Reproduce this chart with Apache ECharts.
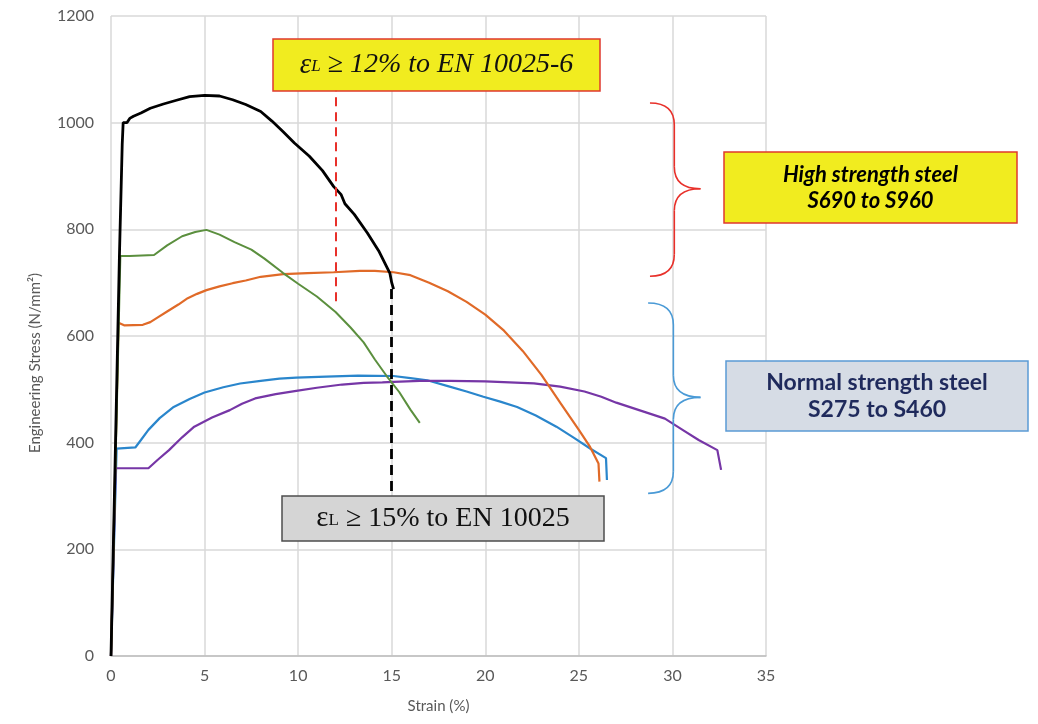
<!DOCTYPE html>
<html>
<head>
<meta charset="utf-8">
<script src="https://cdn.jsdelivr.net/npm/echarts@6/dist/echarts.min.js"></script>
<style>
html,body{margin:0;padding:0;background:#fff;}
#chart{width:1038px;height:724px;}
</style>
</head>
<body>
<div id="chart"></div>
<script>
// strain (%) , stress (N/mm2)
var blackCurve = [[0,0],[0.2,330],[0.45,750],[0.6,960],[0.65,1000],[0.85,1000],[1.0,1008],[1.2,1012],[1.6,1018],[2.1,1027],[2.8,1035],[3.5,1042],[4.2,1049],[5.0,1051],[5.8,1050],[6.5,1043],[7.2,1034],[8.0,1021],[8.6,1003],[9.2,983],[9.8,962],[10.6,937],[11.3,910],[11.9,880],[12.3,865],[12.5,848],[13.0,828],[13.7,793],[14.3,760],[14.9,718],[15.0,700],[15.1,688]];
var greenCurve = [[0,0],[0.5,750],[1.0,750],[2.3,752],[3.0,770],[3.8,787],[4.5,795],[5.1,799],[5.8,790],[6.6,776],[7.5,762],[8.2,745],[9.2,718],[10.0,698],[11.0,674],[12.0,645],[12.8,616],[13.5,588],[14.1,556],[14.75,524],[15.4,495],[16.0,462],[16.5,437]];
var orangeCurve = [[0,0],[0.4,625],[0.7,620],[1.7,621],[2.1,626],[2.5,635],[3.0,646],[3.6,659],[4.1,671],[4.6,679],[5.1,686],[5.8,693],[6.5,699],[7.2,704],[8.0,711],[9.2,716],[10.5,718],[11.9,719.5],[13.3,722],[14.1,722],[15.1,719.5],[16.0,714],[17.0,700],[18.0,684],[19.0,664],[20.0,640],[21.0,610],[22.0,572],[23.0,527],[24.0,475],[25.0,424],[25.6,392],[26.05,361],[26.1,327]];
var blueCurve = [[0,0],[0.3,389],[1.3,391],[1.6,405],[2.0,424],[2.6,446],[3.35,467],[4.2,482],[5.0,494],[6.0,504],[6.9,511],[8.0,516],[9.0,520],[9.9,522],[11.5,524],[13.2,525.6],[15.1,525],[16.0,521],[16.9,517],[18.0,506],[19.0,496],[19.9,486],[20.8,477],[21.7,467],[22.7,451],[23.8,430],[24.7,410],[25.6,389],[26.45,371],[26.5,330]];
var purpleCurve = [[0,0],[0.25,352],[2.0,352],[2.5,368],[3.1,386],[3.8,410],[4.45,430],[5.4,447],[6.35,461],[7.0,473],[7.7,483],[8.8,491],[9.9,497],[11.0,503],[12.35,509],[13.5,512],[14.5,513],[15.1,514],[16.5,516],[18.1,516],[20.0,515],[22.6,511],[24.0,505],[25.3,496],[26.2,486],[27.0,475],[28.3,460],[29.6,445],[30.5,425],[31.4,405],[32.4,386],[32.6,349]];

var xTicks = [0,5,10,15,20,25,30,35];
var yTicks = [0,200,400,600,800,1000,1200];

// dashed limit lines : [strain, from stress, to stress]
var limit12 = [12, 665, 1060];
var limit15 = [15, 688, 306];

// braces : x end, x spine, x tip, y top, y mid, y bottom (data units)
var braceHigh = [28.8, 30.1, 31.5, 1037, 876, 712];
var braceNormal = [28.7, 30.05, 31.5, 662, 485, 305];

var chart = echarts.init(document.getElementById('chart'));

var lineSeries = function(name, data, color, w){
    return {
        name: name,
        type: 'line',
        data: data,
        showSymbol: false,
        symbol: 'none',
        smooth: false,
        silent: true,
        lineStyle: {color: color, width: w}
    };
};

var series = [
    lineSeries('blue', blueCurve, '#2a86cc', 2.2),
    lineSeries('purple', purpleCurve, '#7636a6', 2.2),
    lineSeries('orange', orangeCurve, '#e06a28', 2.2),
    lineSeries('green', greenCurve, '#5b8f3e', 2),
    lineSeries('black', blackCurve, '#000000', 2.8)
];
series[3].markLine = {
    silent: true, symbol: ['none','none'], label: {show: false},
    lineStyle: {color: '#e8302a', type: [9,6], width: 2},
    data: [[{coord: [limit12[0], limit12[1]]}, {coord: [limit12[0], limit12[2]]}]]
};
series[4].markLine = {
    silent: true, symbol: ['none','none'], label: {show: false},
    lineStyle: {color: '#000', type: [10,6], width: 2.8},
    data: [[{coord: [limit15[0], limit15[1]]}, {coord: [limit15[0], limit15[2]]}]]
};

var option = {
    backgroundColor: '#fff',
    animation: false,
    grid: {left: 111, right: 272, top: 16, bottom: 68},
    xAxis: {
        type: 'value', min: xTicks[0], max: xTicks[xTicks.length-1], interval: 5,
        name: 'Strain (%)', nameLocation: 'middle', nameGap: 43,
        nameTextStyle: {fontFamily: 'Lato', fontSize: 15, color: '#595959'},
        axisLine: {show: true, lineStyle: {color: '#bfbfbf', width: 1.5}},
        axisTick: {show: false},
        axisLabel: {fontFamily: 'Lato', fontSize: 16, color: '#595959', margin: 12},
        splitLine: {show: true, lineStyle: {color: '#d9d9d9', width: 1.5}}
    },
    yAxis: {
        type: 'value', min: yTicks[0], max: yTicks[yTicks.length-1], interval: 200,
        axisLine: {show: false},
        axisTick: {show: false},
        axisLabel: {fontFamily: 'Lato', fontSize: 16, color: '#595959', margin: 17,
            formatter: function(v){ return String(v); }},
        splitLine: {show: true, lineStyle: {color: '#d9d9d9', width: 1.5}}
    },
    series: series
};
chart.setOption(option);

// boxes and braces
var box = function(x, y, w, h, fill, stroke, textStyle){
    return {
        type: 'group', x: x, y: y, silent: true, z: 100,
        children: [
            {type: 'rect', shape: {x: 0, y: 0, width: w, height: h},
             style: {fill: fill, stroke: stroke, lineWidth: 1.5}},
            {type: 'text', x: w/2, y: h/2,
             style: echarts.util.extend({align: 'center', verticalAlign: 'middle'}, textStyle)}
        ]
    };
};

var brace = function(b, color){
    var p = function(x, y){ return chart.convertToPixel({gridIndex: 0}, [x, y]); };
    var e0 = p(b[0], b[3]), e1 = p(b[0], b[5]);
    var s0 = p(b[1], b[3]), sm = p(b[1], b[4]), s1 = p(b[1], b[5]);
    var tip = p(b[2], b[4]);
    var r = 22;
    var st = {stroke: color, lineWidth: 1.6, fill: 'none'};
    var c = function(a, b2, cp){
        return {type: 'bezierCurve', silent: true, z: 90,
            shape: {x1: a[0], y1: a[1], x2: b2[0], y2: b2[1], cpx1: cp[0], cpy1: cp[1]}, style: st};
    };
    var l = function(a, b2){
        return {type: 'line', silent: true, z: 90,
            shape: {x1: a[0], y1: a[1], x2: b2[0], y2: b2[1]}, style: st};
    };
    return [
        c(e0, [s0[0], s0[1]+r], [s0[0], e0[1]]),
        l([s0[0], s0[1]+r], [sm[0], sm[1]-r]),
        c([sm[0], sm[1]-r], tip, [sm[0], sm[1]]),
        c(tip, [sm[0], sm[1]+r], [sm[0], sm[1]]),
        l([sm[0], sm[1]+r], [s1[0], s1[1]-r]),
        c([s1[0], s1[1]-r], e1, [s1[0], e1[1]])
    ];
};

var serif = 'Liberation Serif, Times New Roman, serif';
var graphics = [
    box(273, 39, 327, 52, '#f1ec1f', '#e0392e', {
        text: '{e|ε}{l|L}{t| ≥ 12% to EN 10025-6}',
        rich: {
            e: {fontFamily: serif, fontStyle: 'italic', fontSize: 29, fill: '#111'},
            l: {fontFamily: serif, fontStyle: 'italic', fontSize: 17, fill: '#111', verticalAlign: 'bottom', padding: [0,0,4,0]},
            t: {fontFamily: serif, fontStyle: 'italic', fontSize: 28, fill: '#111'}
        }
    }),
    box(282, 496, 322, 45, '#d5d5d5', '#4d4d4d', {
        text: '{e|ε}{l|L}{t| ≥ 15% to EN 10025}',
        rich: {
            e: {fontFamily: serif, fontSize: 29, fill: '#111'},
            l: {fontFamily: serif, fontSize: 17, fill: '#111', verticalAlign: 'bottom', padding: [0,0,4,0]},
            t: {fontFamily: serif, fontSize: 28, fill: '#111'}
        }
    }),
    box(724, 152, 293, 71, '#f1ec1f', '#e0392e', {
        text: 'High strength steel\nS690 to S960',
        fontFamily: 'Lato', fontStyle: 'italic', fontWeight: 'bold', fontSize: 22,
        lineHeight: 26, fill: '#000'
    }),
    box(726, 361, 302, 70, '#d6dce5', '#5b9bd5', {
        text: 'Normal strength steel\nS275 to S460',
        fontFamily: 'Lato', fontWeight: 'bold', fontSize: 23,
        lineHeight: 27, fill: '#1f2a5c'
    }),
    {type: 'text', x: 35, y: 363, rotation: Math.PI/2, silent: true,
     style: {text: 'Engineering Stress (N/mm²)', fontFamily: 'Lato', fontSize: 15,
             fill: '#595959', align: 'center', verticalAlign: 'middle'}}
].concat(brace(braceHigh, '#e8302a'), brace(braceNormal, '#4a9ad6'));

chart.setOption({graphic: {elements: graphics}});
</script>
</body>
</html>
